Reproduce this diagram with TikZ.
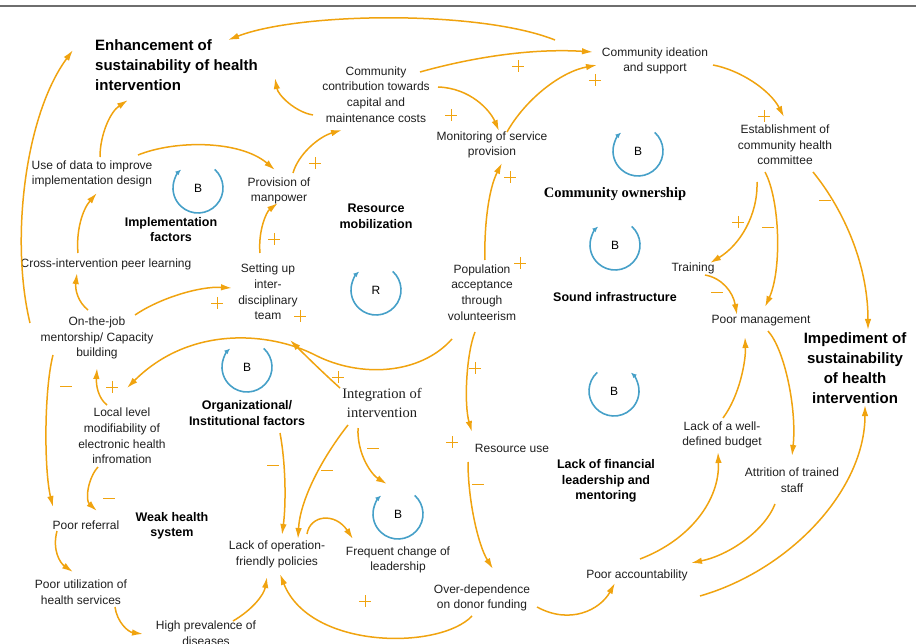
\documentclass[tikz,border=0pt]{standalone}
\usepackage{fontspec}
\setmainfont{Liberation Sans}
\newfontfamily\serifface{Liberation Serif}
\usetikzlibrary{arrows.meta,calc}
\definecolor{corange}{RGB}{240,163,15}
\definecolor{cblue}{RGB}{70,160,200}
\definecolor{cgray}{RGB}{110,110,110}
\tikzset{
  lbl/.style={align=center,font=\fontsize{12}{15.7}\selectfont,inner sep=0pt,text=black!88},
  ttl/.style={font=\fontsize{15}{19.8}\selectfont\bfseries,inner sep=0pt},
  loopl/.style={align=center,font=\fontsize{12.5}{15.5}\selectfont\bfseries,inner sep=0pt},
  conn/.style={draw=corange,line width=1.5pt,-{Latex[length=11pt,width=6.5pt]}},
  loopc/.style={draw=cblue,line width=1.6pt,-{Latex[length=6pt,width=5pt]}},
  looplet/.style={font=\fontsize{12}{14}\selectfont,inner sep=0pt},
  psign/.pic={\draw[corange,line width=0.9pt] (-6,0)--(6,0) (0,-6)--(0,6);},
  msign/.pic={\draw[corange,line width=0.9pt] (-6,0)--(6,0);}
}
\begin{document}
\begin{tikzpicture}[x=1pt,y=-1pt]
\useasboundingbox (0,0) rectangle (916,644);
\draw[cgray,line width=2pt] (0,6) -- (916,6);

% variables
\node[lbl] (cideation) at (655,61) {Community ideation\\and support};
\node[lbl] (ccontrib) at (376,94.5) {Community\\contribution towards\\capital and\\maintenance costs};
\node[lbl] (monitor) at (492,145) {Monitoring of service\\provision};
\node[lbl] (establish) at (785,145) {Establishment of\\community health\\committee};
\node[lbl] (usedata) at (92,174) {Use of data to improve\\implementation design};
\node[lbl] (provision) at (279,191) {Provision of\\manpower};
\node[lbl] (setting) at (268,292) {Setting up\\inter-\\disciplinary\\team};
\node[lbl] (crossint) at (106,264) {Cross-intervention peer learning};
\node[lbl] (onjob) at (97,338) {On-the-job\\mentorship/ Capacity\\building};
\node[lbl] (locallevel) at (122,436) {Local level\\modifiability of\\electronic health\\infromation};
\node[lbl] (poorref) at (86,525) {Poor referral};
\node[lbl] (poorutil) at (81,592.5) {Poor utilization of\\health services};
\node[lbl] (highprev) at (206,633) {High prevalence of\\diseases};
\node[lbl] (popaccept) at (482,292.5) {Population\\acceptance\\through\\volunteerism};
\node[lbl,font=\serifface\fontsize{14.5}{19}\selectfont] (integration) at (382,402.5) {Integration of\\intervention};
\node[lbl] (training) at (693,268) {Training};
\node[lbl] (poormgmt) at (761,321) {Poor management};
\node[lbl] (budget) at (722,435) {Lack of a well-\\defined budget};
\node[lbl] (attrition) at (792,480.5) {Attrition of trained\\staff};
\node[lbl] (account) at (637,575) {Poor accountability};
\node[lbl] (overdep) at (482,598) {Over-dependence\\on donor funding};
\node[lbl] (resuse) at (512,448) {Resource use};
\node[lbl] (frequent) at (398,560) {Frequent change of\\leadership};
\node[lbl] (lackop) at (277,554.5) {Lack of operation-\\friendly policies};

% titles
\node[ttl,align=left,anchor=west] (enhance) at (95,65) {Enhancement of\\sustainability of health\\intervention};
\node[ttl,align=center] (impede) at (855,368) {Impediment of\\sustainability\\of health\\intervention};

% loop labels
\node[loopl] (implf) at (171,229.5) {Implementation\\factors};
\node[loopl] (resmob) at (376,216.5) {Resource\\mobilization};
\node[loopl,font=\serifface\fontsize{14.5}{17}\selectfont\bfseries] (commown) at (615,194) {Community ownership};
\node[loopl] (soundinf) at (615,297) {Sound infrastructure};
\node[loopl] (orgf) at (247,413) {Organizational/\\Institutional factors};
\node[loopl] (weakh) at (172,526) {Weak health\\system};
\node[loopl] (lackfin) at (606,481) {Lack of financial\\leadership and\\mentoring};

% loop symbols
\node[looplet] (L1) at (198,188) {B};
\node[looplet] (L2) at (376,290) {R};
\node[looplet] (L3) at (638,151) {B};
\node[looplet] (L4) at (615,245) {B};
\node[looplet] (L5) at (614,391) {B};
\node[looplet] (L6) at (247,367) {B};
\node[looplet] (L7) at (398,514) {B};
\foreach \l in {L1,L2,L3,L4,L6,L7}{
  \draw[loopc] ($(\l)+(48:25pt)$) arc[start angle=48,end angle=-228,radius=25pt];
}
\draw[loopc] ($(L5)+(132:25pt)$) arc[start angle=132,end angle=408,radius=25pt];

% connectors
\draw[conn] ($(cideation)+(-100,-21)$) .. controls (480,10) and (300,12) .. ($(enhance.west)+(133,-25)$);
\draw[conn] ($(ccontrib)+(44,-22.5)$) .. controls (470,58) and (530,48) .. ($(cideation)+(-62,-9)$);
\draw[conn] ($(monitor)+(15,-13)$) .. controls (525,100) and (560,72) .. ($(cideation)+(-58,4)$);
\draw[conn] ($(ccontrib)+(62,-7.5)$) .. controls (470,88) and (490,110) .. ($(monitor)+(7,-14)$);
\draw[conn] ($(cideation)+(58,4)$) .. controls (740,70) and (770,90) .. ($(establish)+(-1,-28)$);
\draw[conn] ($(provision)+(14,-18)$) .. controls (298,155) and (318,137) .. ($(ccontrib)+(-34,35.5)$);
\draw[conn] ($(ccontrib)+(-63,20.5)$) .. controls (295,112) and (278,95) .. ($(enhance.west)+(180,13)$);
\draw[conn] ($(usedata)+(8,-17)$) .. controls (100,135) and (110,112) .. ($(enhance.west)+(33,35)$);
\draw[conn] ($(usedata)+(46,-19)$) .. controls (175,140) and (240,140) .. ($(provision)+(-4,-21)$);
\draw[conn] ($(crossint)+(-28,-11)$) .. controls (76,232) and (82,210) .. ($(usedata)+(5,19)$);
\draw[conn] ($(onjob)+(-9,-28)$) .. controls (78,302) and (75,290) .. ($(crossint)+(-29,9)$);
\draw[conn] ($(onjob)+(38,-23)$) .. controls (160,298) and (200,286) .. ($(setting)+(-36,-4)$);
\draw[conn] ($(setting)+(-8,-39)$) .. controls (258,232) and (266,212) .. ($(provision)+(-1,12)$);
\draw[conn] ($(onjob)+(-67,-15)$) .. controls (10,240) and (25,115) .. ($(enhance.west)+(-22,-15)$);
\draw[conn] ($(onjob)+(-44,17)$) .. controls (44,390) and (44,470) .. ($(poorref)+(-33,-18)$);
\draw[conn] ($(locallevel)+(-15,-31)$) .. controls (98,398) and (96,385) .. ($(onjob)+(0,30)$);
\draw[conn] ($(locallevel)+(-24,31)$) .. controls (88,478) and (85,500) .. ($(poorref)+(11,-14)$);
\draw[conn] ($(poorref)+(-29,6)$) .. controls (52,550) and (60,563) .. ($(poorutil)+(-8,-20.5)$);
\draw[conn] ($(poorutil)+(34,14.5)$) .. controls (117,622) and (128,632) .. ($(highprev)+(-63,1)$);
\draw[conn] ($(highprev)+(27,-12)$) .. controls (252,610) and (264,595) .. ($(lackop)+(-10,22.5)$);
\draw[conn] ($(overdep)+(-10,18)$) .. controls (440,650) and (310,650) .. ($(lackop)+(3,19.5)$);
\draw[conn] ($(integration)+(-42,-14.5)$) .. controls (320,370) and (300,350) .. ($(setting)+(22,48)$);
\draw[conn] ($(popaccept)+(-30,46.5)$) .. controls (420,375) and (360,378) .. (315,355)
  .. controls (270,332) and (190,325) .. ($(locallevel)+(5,-48)$);
\draw[conn] ($(orgf)+(33,20)$) .. controls (286,465) and (286,505) .. ($(lackop)+(5,-19.5)$);
\draw[conn] ($(integration)+(-34,22.5)$) .. controls (322,458) and (300,500) .. ($(lackop)+(21,-15.5)$);
\draw[conn] ($(integration)+(-24,25.5)$) .. controls (357,455) and (372,475) .. ($(L7)+(-11,-30)$);
\draw[conn] ($(lackop)+(30,-20.5)$) .. controls (310,515) and (335,512) .. ($(frequent)+(-45,-21)$);
\draw[conn] ($(popaccept)+(3,-32.5)$) .. controls (484,230) and (488,190) .. ($(monitor)+(10,18)$);
\draw[conn] ($(popaccept)+(-7,39.5)$) .. controls (466,355) and (464,405) .. ($(resuse)+(-40,-16)$);
\draw[conn] ($(resuse)+(-44,14)$) .. controls (468,500) and (478,545) .. ($(overdep)+(11,-29)$);
\draw[conn] ($(overdep)+(55,9)$) .. controls (570,625) and (600,610) .. ($(account)+(-22,8)$);
\draw[conn] ($(account)+(3,-16)$) .. controls (690,540) and (720,500) .. ($(budget)+(-4,17)$);
\draw[conn] ($(attrition)+(-17,23.5)$) .. controls (765,530) and (730,555) .. ($(account)+(54,-12)$);
\draw[conn] ($(account)+(63,21)$) .. controls (790,570) and (865,490) .. ($(impede)+(10,37)$);
\draw[conn] ($(budget)+(1,-17)$) .. controls (740,395) and (746,360) .. ($(poormgmt)+(-16,16)$);
\draw[conn] ($(poormgmt)+(7,10)$) .. controls (785,350) and (797,410) .. ($(attrition)+(0,-24.5)$);
\draw[conn] ($(establish)+(-28,37)$) .. controls (758,215) and (740,245) .. ($(training)+(17,-5)$);
\draw[conn] ($(establish)+(-20,27)$) .. controls (780,200) and (782,270) .. ($(poormgmt)+(4,-14)$);
\draw[conn] ($(establish)+(28,27)$) .. controls (840,205) and (868,260) .. ($(impede)+(13,-38)$);
\draw[conn] ($(training)+(12,7)$) .. controls (722,278) and (733,292) .. ($(poormgmt)+(-24,-6)$);

% polarity signs
\pic at (518,66) {psign};
\pic at (595,80) {psign};
\pic at (451,115) {psign};
\pic at (764,116) {psign};
\pic at (315,163) {psign};
\pic at (274,239) {psign};
\pic at (217,303) {psign};
\pic at (300,316) {psign};
\pic at (66,386) {msign};
\pic at (112,387) {psign};
\pic at (109,498) {msign};
\pic at (338,377) {psign};
\pic at (273,465) {msign};
\pic at (327,470) {msign};
\pic at (373,448) {msign};
\pic at (510,177) {psign};
\pic at (520,263) {psign};
\pic at (475,368) {psign};
\pic at (452,442) {psign};
\pic at (478,484) {msign};
\pic at (365,601) {psign};
\pic at (738,222) {psign};
\pic at (768,227) {msign};
\pic at (825,200) {msign};
\pic at (717,292) {msign};
\end{tikzpicture}
\end{document}
